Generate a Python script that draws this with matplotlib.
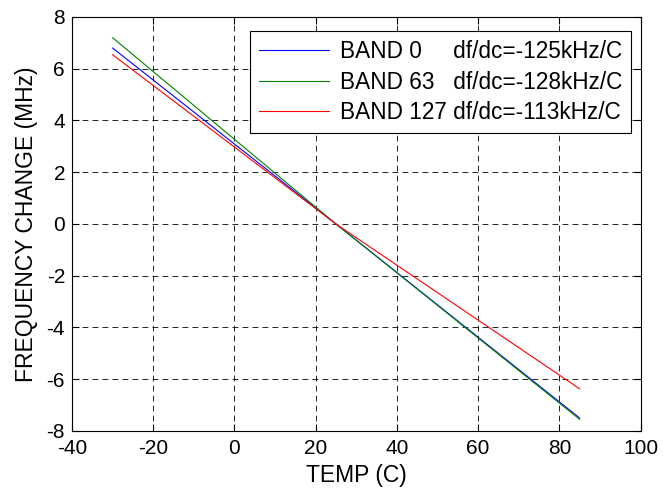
import matplotlib
matplotlib.use("Agg")
import matplotlib.pyplot as plt

temp = [-30, 25, 85]
band0 = [6.80, 0.0, -7.50]
band63 = [7.20, 0.0, -7.55]
band127 = [6.54, 0.0, -6.37]
labels = ["BAND 0     df/dc=-125kHz/C",
          "BAND 63   df/dc=-128kHz/C",
          "BAND 127 df/dc=-113kHz/C"]
xticks = [-40, -20, 0, 20, 40, 60, 80, 100]
yticks = [-8, -6, -4, -2, 0, 2, 4, 6, 8]

plt.rcParams['font.family'] = ['Liberation Sans', 'DejaVu Sans']
plt.rcParams['axes.unicode_minus'] = False
fs_tick = 15
fs_lab = 16.5
fs_leg = 16.3

fig = plt.figure(figsize=(6.63, 4.94), dpi=100)
ax = fig.add_axes([72/663, 1-431/494, 568.6/663, 414/494])

ax.plot(temp, band0, color=(0, 0, 1), lw=0.8, label=labels[0])
ax.plot(temp, band63, color=(0, 0.5, 0), lw=0.8, label=labels[1])
ax.plot(temp, band127, color=(1, 0, 0), lw=0.8, label=labels[2])

ax.set_xlim(-40, 100)
ax.set_ylim(-8, 8)
ax.set_xticks(xticks)
ax.set_yticks(yticks)
ax.grid(True, color='black', linestyle=(0, (7, 5)), linewidth=0.6)
ax.tick_params(direction='in', top=True, right=True, length=5, width=0.8,
               labelsize=fs_tick)
ax.tick_params(axis='x', pad=6)
ax.tick_params(axis='y', pad=5)
for s in ax.spines.values():
    s.set_linewidth(0.8)
ax.set_xlabel("TEMP (C)", fontsize=fs_lab, labelpad=4)
ax.set_ylabel("FREQUENCY CHANGE (MHz)", fontsize=fs_lab, labelpad=6)

leg = ax.legend(loc='upper right', bbox_to_anchor=(631/663, 1-31/494),
                bbox_transform=fig.transFigure, borderaxespad=0,
                fontsize=fs_leg, fancybox=False, framealpha=1, edgecolor='black',
                handlelength=3.1, handletextpad=0.45, borderpad=0.4,
                labelspacing=0.33)
leg.get_frame().set_linewidth(0.8)

fig.savefig("out.png", dpi=100)
